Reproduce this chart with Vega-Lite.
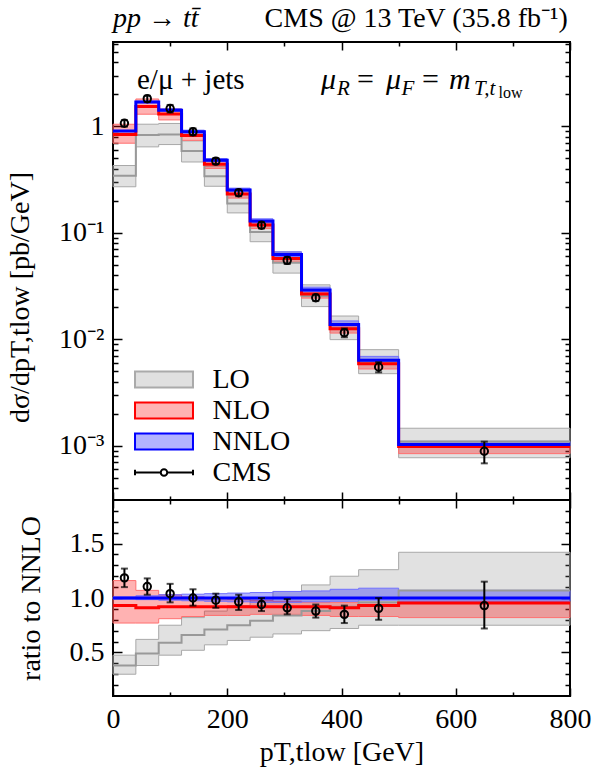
{
  "$schema": "https://vega.github.io/schema/vega-lite/v6.json",
  "background": "white",
  "padding": {"left": 5, "top": 3, "right": 5, "bottom": 5},
  "bounds": "flush",
  "spacing": 0,
  "config": {
    "font": "Liberation Serif",
    "view": {"stroke": "black", "strokeWidth": 2},
    "axis": {
      "domain": false, "grid": false,
      "labelFont": "Liberation Serif", "labelFontSize": 28, "labelColor": "black",
      "tickColor": "black", "tickWidth": 1.5,
      "titleFont": "Liberation Serif", "titleFontSize": 28, "titleFontWeight": "normal", "titleColor": "black",
      "labelFlush": false, "labelOverlap": false, "labelBound": false
    },
    "legend": {
      "labelFont": "Liberation Serif", "labelFontSize": 28, "labelColor": "black",
      "symbolSize": 961, "symbolStrokeWidth": 2, "labelOffset": 32, "rowPadding": 0,
      "padding": 0, "symbolOpacity": 1
    }
  },
  "datasets": {
    "top": [
      {"m": "LO", "x": 0, "c": 0.343, "lo": 0.271, "hi": 0.429},
      {"m": "LO", "x": 40, "c": 0.828, "lo": 0.642, "hi": 1.048},
      {"m": "LO", "x": 80, "c": 0.838, "lo": 0.675, "hi": 1.065},
      {"m": "LO", "x": 120, "c": 0.587, "lo": 0.463, "hi": 0.730},
      {"m": "LO", "x": 160, "c": 0.341, "lo": 0.274, "hi": 0.422},
      {"m": "LO", "x": 200, "c": 0.189, "lo": 0.154, "hi": 0.234},
      {"m": "LO", "x": 240, "c": 0.102, "lo": 0.0826, "hi": 0.126},
      {"m": "LO", "x": 280, "c": 0.0525, "lo": 0.0419, "hi": 0.0663},
      {"m": "LO", "x": 330, "c": 0.0255, "lo": 0.0203, "hi": 0.0325},
      {"m": "LO", "x": 380, "c": 0.0127, "lo": 0.00994, "hi": 0.01656},
      {"m": "LO", "x": 430, "c": 0.0061, "lo": 0.00476, "hi": 0.0080},
      {"m": "LO", "x": 500, "c": 0.0011, "lo": 0.000773, "hi": 0.001463},
      {"m": "LO", "x": 800, "c": 0.0011, "lo": 0.000773, "hi": 0.001463},
      {"m": "NLO", "x": 0, "c": 0.840, "lo": 0.695, "hi": 1.047},
      {"m": "NLO", "x": 40, "c": 1.538, "lo": 1.301, "hi": 1.808},
      {"m": "NLO", "x": 80, "c": 1.306, "lo": 1.150, "hi": 1.463},
      {"m": "NLO", "x": 120, "c": 0.819, "lo": 0.739, "hi": 0.899},
      {"m": "NLO", "x": 160, "c": 0.442, "lo": 0.403, "hi": 0.480},
      {"m": "NLO", "x": 200, "c": 0.232, "lo": 0.212, "hi": 0.249},
      {"m": "NLO", "x": 240, "c": 0.1187, "lo": 0.1097, "hi": 0.1264},
      {"m": "NLO", "x": 280, "c": 0.0575, "lo": 0.0531, "hi": 0.0606},
      {"m": "NLO", "x": 330, "c": 0.0267, "lo": 0.0244, "hi": 0.0278},
      {"m": "NLO", "x": 380, "c": 0.01256, "lo": 0.01145, "hi": 0.01325},
      {"m": "NLO", "x": 430, "c": 0.00591, "lo": 0.00527, "hi": 0.0061},
      {"m": "NLO", "x": 500, "c": 0.000984, "lo": 0.000845, "hi": 0.000999},
      {"m": "NLO", "x": 800, "c": 0.000984, "lo": 0.000845, "hi": 0.000999},
      {"m": "NNLO", "x": 0, "c": 0.903, "lo": 0.894, "hi": 0.912},
      {"m": "NNLO", "x": 40, "c": 1.69, "lo": 1.665, "hi": 1.724},
      {"m": "NNLO", "x": 80, "c": 1.42, "lo": 1.392, "hi": 1.463},
      {"m": "NNLO", "x": 120, "c": 0.89, "lo": 0.868, "hi": 0.921},
      {"m": "NNLO", "x": 160, "c": 0.48, "lo": 0.466, "hi": 0.499},
      {"m": "NNLO", "x": 200, "c": 0.252, "lo": 0.243, "hi": 0.263},
      {"m": "NNLO", "x": 240, "c": 0.129, "lo": 0.1238, "hi": 0.1355},
      {"m": "NNLO", "x": 280, "c": 0.0625, "lo": 0.0600, "hi": 0.0663},
      {"m": "NNLO", "x": 330, "c": 0.029, "lo": 0.0280, "hi": 0.0309},
      {"m": "NNLO", "x": 380, "c": 0.0138, "lo": 0.01339, "hi": 0.0149},
      {"m": "NNLO", "x": 430, "c": 0.00635, "lo": 0.00622, "hi": 0.00692},
      {"m": "NNLO", "x": 500, "c": 0.00103, "lo": 0.000999, "hi": 0.001102},
      {"m": "NNLO", "x": 800, "c": 0.00103, "lo": 0.000999, "hi": 0.001102}
    ],
    "ratio": [
      {"m": "LO", "x": 0, "c": 0.38, "lo": 0.30, "hi": 0.475},
      {"m": "LO", "x": 40, "c": 0.49, "lo": 0.38, "hi": 0.62},
      {"m": "LO", "x": 80, "c": 0.59, "lo": 0.475, "hi": 0.75},
      {"m": "LO", "x": 120, "c": 0.66, "lo": 0.52, "hi": 0.82},
      {"m": "LO", "x": 160, "c": 0.71, "lo": 0.57, "hi": 0.88},
      {"m": "LO", "x": 200, "c": 0.75, "lo": 0.61, "hi": 0.93},
      {"m": "LO", "x": 240, "c": 0.79, "lo": 0.64, "hi": 0.98},
      {"m": "LO", "x": 280, "c": 0.84, "lo": 0.67, "hi": 1.06},
      {"m": "LO", "x": 330, "c": 0.88, "lo": 0.70, "hi": 1.12},
      {"m": "LO", "x": 380, "c": 0.92, "lo": 0.72, "hi": 1.20},
      {"m": "LO", "x": 430, "c": 0.96, "lo": 0.75, "hi": 1.26},
      {"m": "LO", "x": 500, "c": 1.07, "lo": 0.75, "hi": 1.42},
      {"m": "LO", "x": 800, "c": 1.07, "lo": 0.75, "hi": 1.42},
      {"m": "NLO", "x": 0, "c": 0.93, "lo": 0.77, "hi": 1.16},
      {"m": "NLO", "x": 40, "c": 0.91, "lo": 0.77, "hi": 1.07},
      {"m": "NLO", "x": 80, "c": 0.92, "lo": 0.81, "hi": 1.03},
      {"m": "NLO", "x": 120, "c": 0.92, "lo": 0.83, "hi": 1.01},
      {"m": "NLO", "x": 160, "c": 0.92, "lo": 0.84, "hi": 1.0},
      {"m": "NLO", "x": 200, "c": 0.92, "lo": 0.84, "hi": 0.99},
      {"m": "NLO", "x": 240, "c": 0.92, "lo": 0.85, "hi": 0.98},
      {"m": "NLO", "x": 280, "c": 0.92, "lo": 0.85, "hi": 0.97},
      {"m": "NLO", "x": 330, "c": 0.92, "lo": 0.84, "hi": 0.96},
      {"m": "NLO", "x": 380, "c": 0.91, "lo": 0.83, "hi": 0.96},
      {"m": "NLO", "x": 430, "c": 0.93, "lo": 0.83, "hi": 0.96},
      {"m": "NLO", "x": 500, "c": 0.955, "lo": 0.82, "hi": 0.97},
      {"m": "NLO", "x": 800, "c": 0.955, "lo": 0.82, "hi": 0.97},
      {"m": "NNLO", "x": 0, "c": 1, "lo": 0.99, "hi": 1.01},
      {"m": "NNLO", "x": 40, "c": 1, "lo": 0.985, "hi": 1.02},
      {"m": "NNLO", "x": 80, "c": 1, "lo": 0.98, "hi": 1.03},
      {"m": "NNLO", "x": 120, "c": 1, "lo": 0.975, "hi": 1.035},
      {"m": "NNLO", "x": 160, "c": 1, "lo": 0.97, "hi": 1.04},
      {"m": "NNLO", "x": 200, "c": 1, "lo": 0.965, "hi": 1.045},
      {"m": "NNLO", "x": 240, "c": 1, "lo": 0.96, "hi": 1.05},
      {"m": "NNLO", "x": 280, "c": 1, "lo": 0.96, "hi": 1.06},
      {"m": "NNLO", "x": 330, "c": 1, "lo": 0.965, "hi": 1.065},
      {"m": "NNLO", "x": 380, "c": 1, "lo": 0.97, "hi": 1.08},
      {"m": "NNLO", "x": 430, "c": 1, "lo": 0.98, "hi": 1.09},
      {"m": "NNLO", "x": 500, "c": 1, "lo": 0.97, "hi": 1.07},
      {"m": "NNLO", "x": 800, "c": 1, "lo": 0.97, "hi": 1.07}
    ],
    "cms": [
      {"x": 20, "v": 1.07, "vlo": 0.995, "vhi": 1.145, "r": 1.185, "rlo": 1.10, "rhi": 1.27},
      {"x": 60, "v": 1.82, "vlo": 1.70, "vhi": 1.94, "r": 1.105, "rlo": 1.03, "rhi": 1.18},
      {"x": 100, "v": 1.47, "vlo": 1.35, "vhi": 1.59, "r": 1.04, "rlo": 0.96, "rhi": 1.13},
      {"x": 140, "v": 0.89, "vlo": 0.823, "vhi": 0.957, "r": 1.0, "rlo": 0.93, "rhi": 1.08},
      {"x": 180, "v": 0.472, "vlo": 0.441, "vhi": 0.503, "r": 0.98, "rlo": 0.91, "rhi": 1.04},
      {"x": 220, "v": 0.238, "vlo": 0.221, "vhi": 0.255, "r": 0.965, "rlo": 0.89, "rhi": 1.03},
      {"x": 260, "v": 0.118, "vlo": 0.110, "vhi": 0.126, "r": 0.94, "rlo": 0.88, "rhi": 1.00},
      {"x": 305, "v": 0.0552, "vlo": 0.051, "vhi": 0.0594, "r": 0.91, "rlo": 0.85, "rhi": 0.99},
      {"x": 355, "v": 0.0246, "vlo": 0.0229, "vhi": 0.0263, "r": 0.88, "rlo": 0.82, "rhi": 0.94},
      {"x": 405, "v": 0.01156, "vlo": 0.01047, "vhi": 0.01265, "r": 0.85, "rlo": 0.77, "rhi": 0.93},
      {"x": 465, "v": 0.0055, "vlo": 0.0049, "vhi": 0.0061, "r": 0.905, "rlo": 0.80, "rhi": 1.0},
      {"x": 650, "v": 0.00089, "vlo": 0.000685, "vhi": 0.001095, "r": 0.93, "rlo": 0.72, "rhi": 1.15}
    ]
  },
  "vconcat": [
    {
      "width": 457,
      "height": 458,
      "data": {"name": "top"},
      "resolve": {"axis": {"x": "independent", "y": "independent"}},
      "layer": [
        {
          "transform": [{"filter": "datum.m == 'LO'"}],
          "mark": {"type": "area", "interpolate": "step-after", "fill": "#808080", "fillOpacity": 0.24, "stroke": "#a8a8a8", "strokeWidth": 1},
          "encoding": {
            "x": {"field": "x", "type": "quantitative", "scale": {"domain": [0, 800], "nice": false, "zero": false},
              "axis": {"orient": "bottom", "values": [0, 100, 200, 300, 400, 500, 600, 700, 800], "labels": false, "title": null,
                "tickSize": {"condition": {"test": "datum.value % 200 == 0", "value": -8}, "value": -4}}},
            "y": {"field": "lo", "type": "quantitative", "scale": {"type": "log", "domain": [0.00031, 6.2], "nice": false},
              "axis": {"orient": "left",
                "values": [0.0004, 0.0005, 0.0006, 0.0007, 0.0008, 0.0009, 0.001, 0.002, 0.003, 0.004, 0.005, 0.006, 0.007, 0.008, 0.009, 0.01, 0.02, 0.03, 0.04, 0.05, 0.06, 0.07, 0.08, 0.09, 0.1, 0.2, 0.3, 0.4, 0.5, 0.6, 0.7, 0.8, 0.9, 1, 2, 3, 4, 5, 6],
                "labelExpr": "datum.value == 1 ? '1' : datum.value == 0.1 ? '10⁻¹' : datum.value == 0.01 ? '10⁻²' : datum.value == 0.001 ? '10⁻³' : ''",
                "labelPadding": 18,
                "tickSize": {"condition": {"test": "datum.value == 1 || datum.value == 0.1 || datum.value == 0.01 || datum.value == 0.001", "value": -9}, "value": -5},
                "title": "dσ/dpT,tlow [pb/GeV]", "titlePadding": 24, "titleY": 255}},
            "y2": {"field": "hi"}
          }
        },
        {
          "transform": [{"filter": "datum.m == 'NLO'"}],
          "mark": {"type": "area", "interpolate": "step-after", "fill": "#ff0000", "fillOpacity": 0.3, "stroke": "#ff7070", "strokeWidth": 1},
          "encoding": {
            "x": {"field": "x", "type": "quantitative",
              "axis": {"orient": "top", "values": [0, 100, 200, 300, 400, 500, 600, 700, 800], "labels": false, "title": null,
                "tickSize": {"condition": {"test": "datum.value % 200 == 0", "value": -8}, "value": -4}}},
            "y": {"field": "lo", "type": "quantitative", "scale": {"type": "log"},
              "axis": {"orient": "right",
                "values": [0.0004, 0.0005, 0.0006, 0.0007, 0.0008, 0.0009, 0.001, 0.002, 0.003, 0.004, 0.005, 0.006, 0.007, 0.008, 0.009, 0.01, 0.02, 0.03, 0.04, 0.05, 0.06, 0.07, 0.08, 0.09, 0.1, 0.2, 0.3, 0.4, 0.5, 0.6, 0.7, 0.8, 0.9, 1, 2, 3, 4, 5, 6],
                "labels": false, "title": null,
                "tickSize": {"condition": {"test": "datum.value == 1 || datum.value == 0.1 || datum.value == 0.01 || datum.value == 0.001", "value": -9}, "value": -5}}},
            "y2": {"field": "hi"}
          }
        },
        {
          "transform": [{"filter": "datum.m == 'NNLO'"}],
          "mark": {"type": "area", "interpolate": "step-after", "fill": "#0000ff", "fillOpacity": 0.3, "stroke": "#7070ff", "strokeWidth": 1},
          "encoding": {
            "x": {"field": "x", "type": "quantitative", "axis": null},
            "y": {"field": "lo", "type": "quantitative", "scale": {"type": "log"}, "axis": null},
            "y2": {"field": "hi"}
          }
        },
        {
          "transform": [{"filter": "datum.m == 'LO'"}],
          "mark": {"type": "line", "interpolate": "step-after", "color": "#999999", "strokeWidth": 2},
          "encoding": {
            "x": {"field": "x", "type": "quantitative", "axis": null},
            "y": {"field": "c", "type": "quantitative", "scale": {"type": "log"}, "axis": null}
          }
        },
        {
          "transform": [{"filter": "datum.m == 'NLO'"}],
          "mark": {"type": "line", "interpolate": "step-after", "color": "#ff0000", "strokeWidth": 3},
          "encoding": {
            "x": {"field": "x", "type": "quantitative", "axis": null},
            "y": {"field": "c", "type": "quantitative", "scale": {"type": "log"}, "axis": null}
          }
        },
        {
          "transform": [{"filter": "datum.m == 'NNLO'"}],
          "mark": {"type": "line", "interpolate": "step-after", "color": "#0000ff", "strokeWidth": 3},
          "encoding": {
            "x": {"field": "x", "type": "quantitative", "axis": null},
            "y": {"field": "c", "type": "quantitative", "scale": {"type": "log"}, "axis": null}
          }
        },
        {
          "data": {"name": "cms"},
          "mark": {"type": "errorbar", "ticks": {"size": 7, "thickness": 2, "color": "black"}, "rule": {"strokeWidth": 2, "color": "black"}},
          "encoding": {
            "x": {"field": "x", "type": "quantitative", "axis": null},
            "y": {"field": "vlo", "type": "quantitative", "scale": {"type": "log"}, "axis": null},
            "y2": {"field": "vhi"}
          }
        },
        {
          "data": {"name": "cms"},
          "mark": {"type": "point", "shape": "circle", "size": 55, "filled": false, "stroke": "black", "strokeWidth": 2, "opacity": 1},
          "encoding": {
            "x": {"field": "x", "type": "quantitative", "axis": null},
            "y": {"field": "v", "type": "quantitative", "scale": {"type": "log"}, "axis": null}
          }
        },
        {
          "data": {"values": [{"k": "LO"}, {"k": "NLO"}, {"k": "NNLO"}, {"k": "CMS"}]},
          "mark": {"type": "point", "opacity": 0},
          "encoding": {
            "x": {"datum": 400, "type": "quantitative", "axis": null},
            "y": {"datum": 0.01, "type": "quantitative", "scale": {"type": "log"}, "axis": null},
            "shape": {"field": "k", "type": "nominal",
              "scale": {"domain": ["LO", "NLO", "NNLO", "CMS"],
                "range": ["M-1.87,-0.52H1.87V0.52H-1.87Z", "M-1.87,-0.52H1.87V0.52H-1.87Z", "M-1.87,-0.52H1.87V0.52H-1.87Z",
                  "M-1.87,0H-0.21M0.21,0H1.87M-1.87,-0.17V0.17M1.87,-0.17V0.17M-0.21,0A0.21,0.21 0 1,1 0.21,0A0.21,0.21 0 1,1 -0.21,0Z"]},
              "legend": {"orient": "none", "legendX": 34.5, "legendY": 321, "title": null}},
            "fill": {"field": "k", "type": "nominal",
              "scale": {"domain": ["LO", "NLO", "NNLO", "CMS"], "range": ["#e0e0e0", "#ffb3b3", "#b3b3ff", "#ffffff"]},
              "legend": {"orient": "none", "legendX": 34.5, "legendY": 321, "title": null}},
            "stroke": {"field": "k", "type": "nominal",
              "scale": {"domain": ["LO", "NLO", "NNLO", "CMS"], "range": ["#aaaaaa", "#ff0000", "#0000ff", "#000000"]},
              "legend": {"orient": "none", "legendX": 34.5, "legendY": 321, "title": null}}
          }
        },
        {
          "data": {"values": [{}]},
          "mark": {"type": "text", "text": "pp → tt̄", "fontStyle": "italic", "fontSize": 28, "align": "left", "baseline": "alphabetic", "color": "black"},
          "encoding": {"x": {"datum": 0, "type": "quantitative", "axis": null}, "y": {"datum": 8.66, "type": "quantitative", "scale": {"type": "log"}, "axis": null}}
        },
        {
          "data": {"values": [{}]},
          "mark": {"type": "text", "text": "CMS @ 13 TeV (35.8 fb⁻¹)", "fontSize": 28, "align": "right", "baseline": "alphabetic", "color": "black"},
          "encoding": {"x": {"datum": 796, "type": "quantitative", "axis": null}, "y": {"datum": 8.66, "type": "quantitative", "scale": {"type": "log"}, "axis": null}}
        },
        {
          "data": {"values": [{}]},
          "mark": {"type": "text", "text": "e/μ + jets", "fontSize": 29, "align": "left", "baseline": "alphabetic", "color": "black"},
          "encoding": {"x": {"datum": 42, "type": "quantitative", "axis": null}, "y": {"datum": 2.22, "type": "quantitative", "scale": {"type": "log"}, "axis": null}}
        },
        {
          "data": {"values": [{}]},
          "mark": {"type": "text", "text": "μ", "fontStyle": "italic", "fontSize": 30, "align": "left", "baseline": "alphabetic", "color": "black"},
          "encoding": {"x": {"datum": 364, "type": "quantitative", "axis": null}, "y": {"datum": 2.22, "type": "quantitative", "scale": {"type": "log"}, "axis": null}}
        },
        {
          "data": {"values": [{}]},
          "mark": {"type": "text", "text": "R", "fontStyle": "italic", "fontSize": 21, "align": "left", "baseline": "alphabetic", "color": "black"},
          "encoding": {"x": {"datum": 392, "type": "quantitative", "axis": null}, "y": {"datum": 1.98, "type": "quantitative", "scale": {"type": "log"}, "axis": null}}
        },
        {
          "data": {"values": [{}]},
          "mark": {"type": "text", "text": "=", "fontSize": 30, "align": "left", "baseline": "alphabetic", "color": "black"},
          "encoding": {"x": {"datum": 427, "type": "quantitative", "axis": null}, "y": {"datum": 2.22, "type": "quantitative", "scale": {"type": "log"}, "axis": null}}
        },
        {
          "data": {"values": [{}]},
          "mark": {"type": "text", "text": "μ", "fontStyle": "italic", "fontSize": 30, "align": "left", "baseline": "alphabetic", "color": "black"},
          "encoding": {"x": {"datum": 478, "type": "quantitative", "axis": null}, "y": {"datum": 2.22, "type": "quantitative", "scale": {"type": "log"}, "axis": null}}
        },
        {
          "data": {"values": [{}]},
          "mark": {"type": "text", "text": "F", "fontStyle": "italic", "fontSize": 21, "align": "left", "baseline": "alphabetic", "color": "black"},
          "encoding": {"x": {"datum": 505, "type": "quantitative", "axis": null}, "y": {"datum": 1.98, "type": "quantitative", "scale": {"type": "log"}, "axis": null}}
        },
        {
          "data": {"values": [{}]},
          "mark": {"type": "text", "text": "=", "fontSize": 30, "align": "left", "baseline": "alphabetic", "color": "black"},
          "encoding": {"x": {"datum": 541, "type": "quantitative", "axis": null}, "y": {"datum": 2.22, "type": "quantitative", "scale": {"type": "log"}, "axis": null}}
        },
        {
          "data": {"values": [{}]},
          "mark": {"type": "text", "text": "m", "fontStyle": "italic", "fontSize": 30, "align": "left", "baseline": "alphabetic", "color": "black"},
          "encoding": {"x": {"datum": 588, "type": "quantitative", "axis": null}, "y": {"datum": 2.22, "type": "quantitative", "scale": {"type": "log"}, "axis": null}}
        },
        {
          "data": {"values": [{}]},
          "mark": {"type": "text", "text": "T,t", "fontStyle": "italic", "fontSize": 21, "align": "left", "baseline": "alphabetic", "color": "black"},
          "encoding": {"x": {"datum": 632, "type": "quantitative", "axis": null}, "y": {"datum": 1.98, "type": "quantitative", "scale": {"type": "log"}, "axis": null}}
        },
        {
          "data": {"values": [{}]},
          "mark": {"type": "text", "text": "low", "fontSize": 16, "align": "left", "baseline": "alphabetic", "color": "black"},
          "encoding": {"x": {"datum": 675, "type": "quantitative", "axis": null}, "y": {"datum": 1.83, "type": "quantitative", "scale": {"type": "log"}, "axis": null}}
        }
      ]
    },
    {
      "width": 457,
      "height": 196,
      "data": {"name": "ratio"},
      "resolve": {"axis": {"x": "independent", "y": "independent"}},
      "layer": [
        {
          "transform": [{"filter": "datum.m == 'LO'"}],
          "mark": {"type": "area", "interpolate": "step-after", "fill": "#808080", "fillOpacity": 0.24, "stroke": "#a8a8a8", "strokeWidth": 1},
          "encoding": {
            "x": {"field": "x", "type": "quantitative", "scale": {"domain": [0, 800], "nice": false, "zero": false},
              "axis": {"orient": "bottom", "values": [0, 100, 200, 300, 400, 500, 600, 700, 800],
                "labelExpr": "datum.value % 200 == 0 ? datum.label : ''", "labelPadding": 17,
                "title": "pT,tlow [GeV]", "titlePadding": 1,
                "tickSize": {"condition": {"test": "datum.value % 200 == 0", "value": -8}, "value": -4}}},
            "y": {"field": "lo", "type": "quantitative", "scale": {"domain": [0.1, 1.9], "nice": false, "zero": false},
              "axis": {"orient": "left",
                "values": [0.2, 0.3, 0.4, 0.5, 0.6, 0.7, 0.8, 0.9, 1, 1.1, 1.2, 1.3, 1.4, 1.5, 1.6, 1.7, 1.8],
                "labelExpr": "datum.value == 0.5 ? '0.5' : datum.value == 1 ? '1.0' : datum.value == 1.5 ? '1.5' : ''",
                "labelPadding": 18,
                "tickSize": {"condition": {"test": "datum.value == 0.5 || datum.value == 1 || datum.value == 1.5", "value": -9}, "value": -5},
                "title": "ratio to NNLO", "titlePadding": 24}},
            "y2": {"field": "hi"}
          }
        },
        {
          "transform": [{"filter": "datum.m == 'NLO'"}],
          "mark": {"type": "area", "interpolate": "step-after", "fill": "#ff0000", "fillOpacity": 0.3, "stroke": "#ff7070", "strokeWidth": 1},
          "encoding": {
            "x": {"field": "x", "type": "quantitative",
              "axis": {"orient": "top", "values": [0, 100, 200, 300, 400, 500, 600, 700, 800], "labels": false, "title": null,
                "tickSize": {"condition": {"test": "datum.value % 200 == 0", "value": -8}, "value": -4}}},
            "y": {"field": "lo", "type": "quantitative",
              "axis": {"orient": "right",
                "values": [0.2, 0.3, 0.4, 0.5, 0.6, 0.7, 0.8, 0.9, 1, 1.1, 1.2, 1.3, 1.4, 1.5, 1.6, 1.7, 1.8],
                "labels": false, "title": null,
                "tickSize": {"condition": {"test": "datum.value == 0.5 || datum.value == 1 || datum.value == 1.5", "value": -9}, "value": -5}}},
            "y2": {"field": "hi"}
          }
        },
        {
          "transform": [{"filter": "datum.m == 'NNLO'"}],
          "mark": {"type": "area", "interpolate": "step-after", "fill": "#0000ff", "fillOpacity": 0.3, "stroke": "#7070ff", "strokeWidth": 1},
          "encoding": {
            "x": {"field": "x", "type": "quantitative", "axis": null},
            "y": {"field": "lo", "type": "quantitative", "axis": null},
            "y2": {"field": "hi"}
          }
        },
        {
          "transform": [{"filter": "datum.m == 'LO'"}],
          "mark": {"type": "line", "interpolate": "step-after", "color": "#999999", "strokeWidth": 2},
          "encoding": {
            "x": {"field": "x", "type": "quantitative", "axis": null},
            "y": {"field": "c", "type": "quantitative", "axis": null}
          }
        },
        {
          "transform": [{"filter": "datum.m == 'NLO'"}],
          "mark": {"type": "line", "interpolate": "step-after", "color": "#ff0000", "strokeWidth": 3},
          "encoding": {
            "x": {"field": "x", "type": "quantitative", "axis": null},
            "y": {"field": "c", "type": "quantitative", "axis": null}
          }
        },
        {
          "transform": [{"filter": "datum.m == 'NNLO'"}],
          "mark": {"type": "line", "interpolate": "step-after", "color": "#0000ff", "strokeWidth": 3},
          "encoding": {
            "x": {"field": "x", "type": "quantitative", "axis": null},
            "y": {"field": "c", "type": "quantitative", "axis": null}
          }
        },
        {
          "data": {"name": "cms"},
          "mark": {"type": "errorbar", "ticks": {"size": 7, "thickness": 2, "color": "black"}, "rule": {"strokeWidth": 2, "color": "black"}},
          "encoding": {
            "x": {"field": "x", "type": "quantitative", "axis": null},
            "y": {"field": "rlo", "type": "quantitative", "axis": null},
            "y2": {"field": "rhi"}
          }
        },
        {
          "data": {"name": "cms"},
          "mark": {"type": "point", "shape": "circle", "size": 55, "filled": false, "stroke": "black", "strokeWidth": 2, "opacity": 1},
          "encoding": {
            "x": {"field": "x", "type": "quantitative", "axis": null},
            "y": {"field": "r", "type": "quantitative", "axis": null}
          }
        }
      ]
    }
  ]
}
